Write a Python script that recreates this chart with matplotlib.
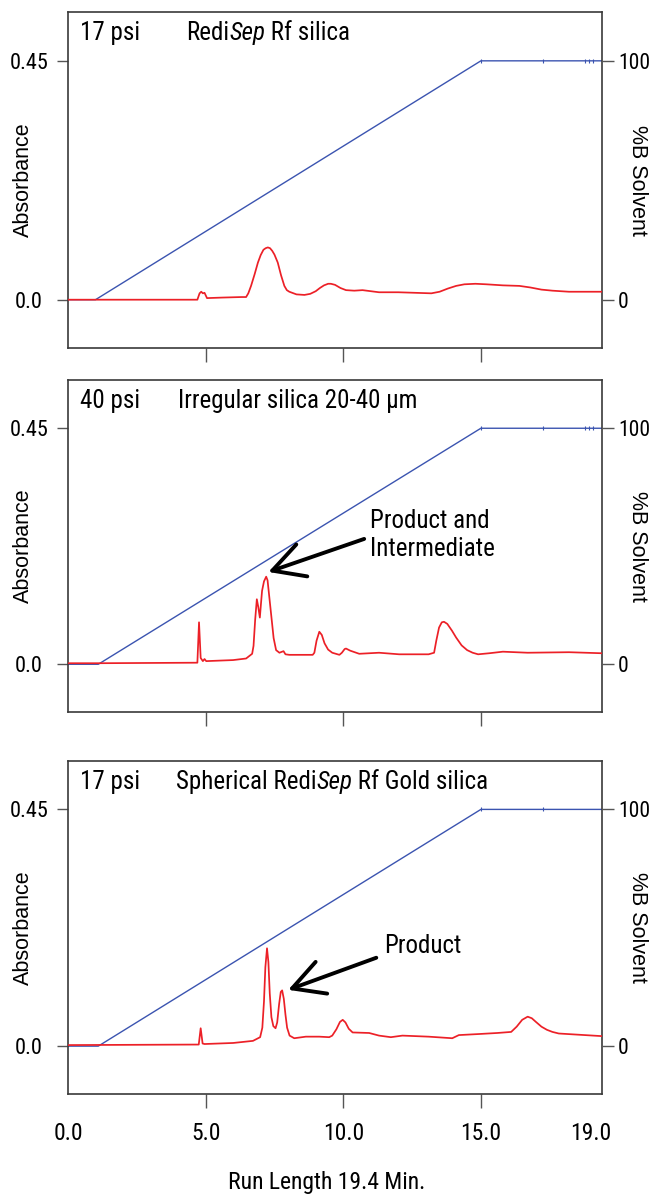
import matplotlib
matplotlib.use("Agg")
import matplotlib.pyplot as plt
from matplotlib import font_manager

# a condensed face is closest to the original; fall back to Liberation Sans
_installed = {f.name for f in font_manager.fontManager.ttflist}
_narrow = next((n for n in ["Liberation Sans Narrow", "Roboto Condensed",
                            "Open Sans Condensed", "Arial Narrow"]
                if n in _installed), "Liberation Sans")
NARROW = [_narrow, "DejaVu Sans"]
PLAIN = ["Liberation Sans", "DejaVu Sans"]
SHRINK = 1.0 if _narrow != "Liberation Sans" else 0.9

RED = "#ec2027"
BLUE = "#3b54b0"
SPINE = "#3a3a3a"

# ---- data -------------------------------------------------------------
# chromatogram 1: 17 psi RediSep Rf silica
t_top = [0.0, 4.70, 4.78, 4.84, 4.90, 4.96, 5.05, 5.6, 6.3, 6.47, 6.55, 6.65,
         6.78, 6.9, 7.0, 7.1, 7.18, 7.26, 7.34, 7.42, 7.5, 7.62, 7.74, 7.86,
         7.95, 8.04, 8.3, 8.59, 8.8, 9.0, 9.15, 9.3, 9.45, 9.55, 9.7, 9.9,
         10.1, 10.4, 10.7, 11.3, 12.0, 12.6, 13.2, 13.5, 13.8, 14.1, 14.4,
         14.8, 15.2, 15.8, 16.4, 16.8, 17.2, 17.6, 18.2, 19.4]
a_top = [0.0, 0.0, 0.012, 0.015, 0.012, 0.013, 0.003, 0.004, 0.005, 0.005,
         0.012, 0.026, 0.048, 0.070, 0.084, 0.094, 0.097, 0.0985, 0.097,
         0.092, 0.085, 0.070, 0.046, 0.026, 0.018, 0.015, 0.010, 0.009, 0.011,
         0.016, 0.022, 0.027, 0.030, 0.030, 0.028, 0.022, 0.018, 0.017, 0.018,
         0.014, 0.014, 0.013, 0.012, 0.015, 0.021, 0.026, 0.029, 0.030, 0.029,
         0.027, 0.026, 0.023, 0.019, 0.017, 0.015, 0.015]

# chromatogram 2: 40 psi irregular silica 20-40 um
t_mid = [0.0, 1.1, 4.70, 4.76, 4.82, 4.90, 4.96, 5.02, 6.0, 6.47, 6.69, 6.74,
         6.80, 6.86, 6.91, 6.97, 7.01, 7.05, 7.12, 7.20, 7.25, 7.30, 7.38,
         7.47, 7.56, 7.68, 7.83, 7.90, 8.04, 8.89, 8.95, 9.03, 9.13, 9.22,
         9.32, 9.45, 9.6, 9.86, 9.95, 10.05, 10.1, 10.25, 10.58, 11.3, 12.03,
         13.1, 13.3, 13.38, 13.48, 13.58, 13.66, 13.78, 13.95, 14.1, 14.3,
         14.5, 14.7, 14.9, 15.3, 15.8, 16.7, 18.2, 19.4]
a_mid = [0.002, 0.002, 0.003, 0.080, 0.012, 0.006, 0.010, 0.006, 0.008, 0.011,
         0.020, 0.035, 0.085, 0.124, 0.110, 0.089, 0.115, 0.140, 0.158, 0.167,
         0.160, 0.135, 0.095, 0.050, 0.027, 0.022, 0.025, 0.019, 0.018, 0.018,
         0.022, 0.045, 0.062, 0.056, 0.040, 0.028, 0.022, 0.018, 0.022, 0.029,
         0.030, 0.026, 0.020, 0.022, 0.019, 0.019, 0.022, 0.045, 0.070, 0.080,
         0.081, 0.077, 0.064, 0.051, 0.036, 0.027, 0.022, 0.019, 0.021, 0.024,
         0.022, 0.023, 0.021]

# chromatogram 3: 17 psi spherical RediSep Rf Gold silica
t_bot = [0.0, 4.75, 4.82, 4.89, 4.96, 6.0, 6.72, 6.98, 7.06, 7.12, 7.17, 7.23,
         7.28, 7.33, 7.39, 7.46, 7.54, 7.60, 7.67, 7.73, 7.78, 7.84, 7.90,
         7.96, 8.05, 8.22, 8.64, 9.13, 9.49, 9.6, 9.75, 9.88, 9.98, 10.08,
         10.2, 10.34, 10.94, 11.3, 11.73, 12.15, 13.1, 13.96, 14.2, 14.93,
         15.6, 16.1, 16.3, 16.5, 16.7, 16.85, 17.0, 17.2, 17.4, 17.6, 17.83,
         19.4]
a_bot = [0.002, 0.003, 0.034, 0.005, 0.004, 0.006, 0.010, 0.017, 0.035, 0.085,
         0.150, 0.186, 0.160, 0.100, 0.055, 0.038, 0.034, 0.045, 0.080, 0.103,
         0.106, 0.090, 0.060, 0.035, 0.020, 0.015, 0.018, 0.018, 0.017, 0.020,
         0.032, 0.046, 0.050, 0.045, 0.033, 0.026, 0.025, 0.020, 0.017, 0.020,
         0.018, 0.015, 0.021, 0.023, 0.025, 0.027, 0.037, 0.050, 0.056, 0.053,
         0.046, 0.037, 0.031, 0.027, 0.024, 0.019]

# gradient (%B) programs
t_grad = [[0.0, 1.0, 15.0, 19.4], [0.0, 1.1, 15.0, 19.4], [0.0, 1.1, 15.0, 19.4]]
b_grad = [0, 0, 100, 100]
t_grad_marks = [[15.0, 17.26, 18.77, 18.94, 19.09],
                [15.0, 17.26, 18.77, 18.94, 19.09],
                [15.0, 17.26]]

pressures = ["17 psi", "40 psi", "17 psi"]
media = [["Redi", "Sep", " Rf silica"],
         ["Irregular silica 20-40 µm"],
         ["Spherical Redi", "Sep", " Rf Gold silica"]]

x_ticks = [0, 5, 10, 15, 19]
x_ticklabels = ["0.0", "5.0", "10.0", "15.0", "19.0"]
abs_ticks = [0.0, 0.45]
abs_ticklabels = ["0.0", "0.45"]
b_ticks = [0, 100]

# annotations: (label, arrow tip, arrow tail, text position)
notes = [None,
         ("Product and\nIntermediate", (7.28, 0.176), (10.76, 0.239), (10.98, 0.247)),
         ("Product", (8.0, 0.107), (11.2, 0.168), (11.49, 0.191))]

YLIM = (-0.091, 0.542)
B_PER_ABS = 100 / 0.45

# ---- figure -----------------------------------------------------------
fig = plt.figure(figsize=(6.52, 11.94), dpi=100)
W, H = 652, 1194
boxes = [(12, 348), (380, 712), (761, 1094)]   # panel top/bottom in px
traces = [(t_top, a_top), (t_mid, a_mid), (t_bot, a_bot)]
title_x = [0.221, 0.206, 0.202]

fs_title = 18 * SHRINK
fs_tick = 16 * SHRINK
fs_note = 18 * SHRINK

for i, (top, bot) in enumerate(boxes):
    ax = fig.add_axes([68 / W, 1 - bot / H, 534 / W, (bot - top) / H])
    t, a = traces[i]
    ax.plot(t, a, color=RED, lw=1.25, zorder=3, solid_joinstyle="round")
    ax.plot(t_grad[i], [b / B_PER_ABS for b in b_grad], color=BLUE, lw=1.0,
            zorder=2)
    ax.plot(t_grad_marks[i], [100 / B_PER_ABS] * len(t_grad_marks[i]),
            ls="none", marker="|", ms=3, mew=0.8, color=BLUE, zorder=2)
    ax.set_xlim(0, 19.4)
    ax.set_ylim(*YLIM)

    for s in ax.spines.values():
        s.set_color(SPINE)
        s.set_linewidth(1.2)

    ax.set_xticks(x_ticks)
    if i == 2:
        ax.set_xticklabels(x_ticklabels, fontsize=fs_tick + 1, family=NARROW)
    else:
        ax.set_xticklabels([])
    ax.tick_params(axis="x", direction="out", length=10, width=1.0,
                   color="#555555", pad=10)
    xt = ax.xaxis.get_major_ticks()
    xt[0].tick1line.set_visible(False)
    xt[-1].tick1line.set_visible(False)

    ax.set_yticks(abs_ticks)
    ax.set_yticklabels(abs_ticklabels, fontsize=fs_tick, family=NARROW, ha="center")
    ax.tick_params(axis="y", direction="out", length=8, width=1.0,
                   color="#555555", pad=20)
    ax.set_ylabel("Absorbance", fontsize=15.5, family=PLAIN, va="center")
    ax.yaxis.set_label_coords(-0.084, 0.5)

    ax2 = ax.twinx()
    ax2.set_ylim(YLIM[0] * B_PER_ABS, YLIM[1] * B_PER_ABS)
    ax2.set_yticks(b_ticks)
    ax2.set_yticklabels([str(b) for b in b_ticks], fontsize=fs_tick - 0.5,
                        family=NARROW)
    ax2.tick_params(axis="y", direction="out", length=8.6, width=1.0,
                    color="#555555", pad=3)
    for s in ax2.spines.values():
        s.set_visible(False)
    ax2.set_ylabel("%B Solvent", fontsize=15.5, family=PLAIN, rotation=270,
                   va="center")
    ax2.yaxis.set_label_coords(1.066, 0.5)

    # panel titles
    ax.text(0.0225, 0.9375, pressures[i], transform=ax.transAxes,
            fontsize=fs_title, family=NARROW, va="center", ha="left")
    prev = ax.text(title_x[i], 0.9375, media[i][0], transform=ax.transAxes,
                   fontsize=fs_title, family=NARROW, va="center", ha="left")
    for k, part in enumerate(media[i][1:]):
        prev = ax.annotate(part, xy=(1, 0), xycoords=prev, va="bottom",
                           ha="left", fontsize=fs_title, family=NARROW,
                           style="italic" if k == 0 else "normal")

    if notes[i] is not None:
        label, tip, tail, txt = notes[i]
        ax.annotate("", xy=tip, xytext=tail,
                    arrowprops=dict(arrowstyle="->,head_length=0.5,head_width=0.27",
                                    lw=2.8, color="black", mutation_scale=45,
                                    shrinkA=0, shrinkB=0), zorder=5)
        ax.text(txt[0], txt[1], label, fontsize=fs_note, family=NARROW,
                ha="left", va="center", linespacing=1.2)

fig.text(327 / W, 1 - 1182 / H, "Run Length 19.4 Min.", fontsize=17 * SHRINK,
         family=NARROW, ha="center", va="center")

fig.savefig("out.png", dpi=100)
